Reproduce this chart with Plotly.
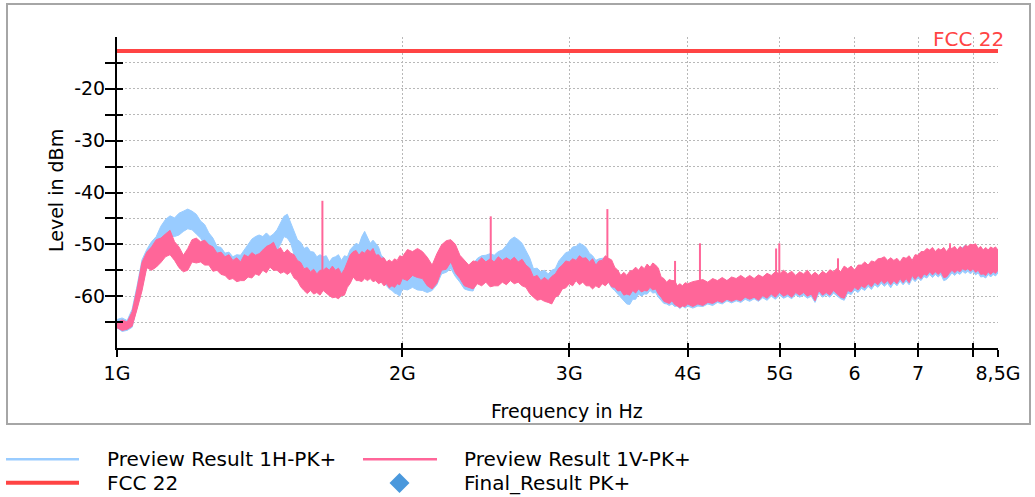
import math
import plotly.graph_objects as go

# ---------------- data (frequency in GHz, level in dBm) ----------------
# main reading grid
freq_ghz = [
    1.000, 1.025, 1.050, 1.075, 1.100, 1.125, 1.150, 1.175, 1.200, 1.225,
    1.250, 1.275, 1.300, 1.325, 1.350, 1.375, 1.400, 1.425, 1.450, 1.475,
    1.500, 1.525, 1.550, 1.575, 1.600, 1.625, 1.650, 1.675, 1.700, 1.725,
    1.750, 1.775, 1.800, 1.825, 1.850, 1.875, 1.900, 1.925, 1.950, 1.975,
    2.000, 2.05, 2.10, 2.15, 2.20, 2.25, 2.30, 2.35, 2.40, 2.45,
    2.50, 2.55, 2.60, 2.65, 2.70, 2.75, 2.80, 2.85, 2.90, 2.95,
    3.00, 3.05, 3.10, 3.15, 3.20, 3.25, 3.30, 3.35, 3.40, 3.45,
    3.50, 3.55, 3.60, 3.65, 3.70, 3.75, 3.80, 3.85, 3.90, 3.95,
    4.0, 4.1, 4.2, 4.3, 4.4, 4.5, 4.6, 4.7, 4.8, 4.9,
    5.0, 5.1, 5.2, 5.3, 5.4, 5.5, 5.6, 5.7, 5.8, 5.9,
    6.0, 6.1, 6.2, 6.3, 6.4, 6.5, 6.6, 6.7, 6.8, 6.9,
    7.0, 7.1, 7.2, 7.3, 7.4, 7.5, 7.6, 7.7, 7.8, 7.9,
    8.0, 8.1, 8.2, 8.3, 8.4, 8.5,
]

# Preview Result 1H-PK+ (band: upper / lower edge of the noisy trace)
h_upper = [
    -64.5, -64.7, -58.0, -51.0, -48.5, -45.2, -44.9, -43.6, -43.6, -45.5,
    -47.8, -50.4, -51.7, -52.4, -52.1, -50.1, -48.5, -48.5, -48.5, -47.2,
    -44.6, -45.9, -49.1, -50.8, -51.4, -52.4, -52.4, -53.4, -52.4, -53.1,
    -52.4, -50.4, -50.1, -47.5, -49.8, -49.8, -52.1, -53.7, -55.0, -55.3,
    -55.0, -55.0, -55.7, -54.7, -52.7, -52.1, -53.4, -55.0, -52.7, -52.1,
    -52.1, -51.1, -49.1, -49.1, -51.1, -54.7, -55.3, -55.7, -54.7, -52.4,
    -51.4, -50.4, -50.1, -51.7, -53.1, -52.7, -53.4, -55.7, -57.0, -58.0,
    -57.3, -56.6, -56.3, -56.0, -55.7, -57.0, -57.6, -58.0, -58.3, -58.3,
    -58.0, -57.6, -57.6, -57.3, -57.0, -56.9, -56.8, -56.9, -56.5, -56.3,
    -56.0, -56.0, -56.2, -56.0, -56.2, -56.2, -55.9, -55.6, -55.6, -55.0,
    -55.2, -54.3, -54.2, -53.7, -53.0, -53.3, -53.3, -53.6, -53.0, -53.3,
    -52.4, -51.7, -51.3, -51.6, -51.3, -51.6, -51.0, -51.3, -50.6, -50.6,
    -50.4, -51.0, -51.3, -51.3, -51.0, -51.3,
]
h_lower = [
    -66.1, -66.6, -62.0, -54.0, -53.0, -49.1, -48.5, -47.5, -47.2, -48.8,
    -51.1, -53.4, -54.4, -55.7, -56.0, -54.4, -52.4, -51.7, -51.7, -51.1,
    -48.5, -49.8, -53.1, -54.4, -55.0, -55.7, -56.0, -56.3, -55.7, -56.0,
    -56.3, -54.4, -54.0, -52.4, -53.1, -53.7, -56.6, -58.0, -58.9, -59.6,
    -58.6, -58.3, -58.9, -58.9, -55.7, -54.7, -57.3, -58.9, -57.0, -56.0,
    -56.3, -55.0, -53.1, -53.4, -55.0, -57.6, -58.3, -58.3, -58.3, -56.6,
    -55.7, -55.0, -54.7, -55.7, -56.3, -56.6, -57.3, -58.9, -60.2, -61.5,
    -60.6, -59.6, -59.6, -58.9, -59.3, -60.9, -61.5, -61.5, -61.9, -61.9,
    -61.9, -61.9, -61.5, -61.2, -60.9, -60.9, -60.6, -60.5, -60.3, -60.0,
    -59.8, -60.0, -59.7, -59.8, -60.0, -59.4, -59.7, -59.4, -60.5, -59.4,
    -58.8, -58.5, -58.1, -57.8, -57.5, -57.5, -57.4, -57.1, -57.1, -56.6,
    -56.5, -56.2, -55.8, -55.8, -55.8, -56.8, -55.5, -55.5, -55.2, -55.2,
    -55.2, -55.5, -56.2, -55.8, -55.8, -55.5,
]

# Preview Result 1V-PK+
v_upper = [
    -65.1, -65.0, -58.5, -51.5, -49.1, -48.0, -49.5, -52.1, -49.1, -49.5,
    -50.1, -51.7, -52.4, -53.1, -53.4, -52.4, -52.1, -51.1, -50.1, -51.1,
    -51.7, -51.7, -53.1, -54.7, -55.3, -55.7, -55.0, -55.0, -55.0, -55.7,
    -53.4, -51.4, -52.1, -51.7, -51.4, -52.1, -52.7, -53.4, -53.4, -53.1,
    -52.4, -51.4, -51.4, -54.0, -50.1, -49.1, -52.1, -54.0, -53.4, -53.4,
    -53.4, -53.1, -53.1, -53.4, -54.0, -56.3, -57.0, -57.0, -55.7, -54.0,
    -53.4, -53.1, -52.7, -53.4, -54.0, -53.1, -52.7, -54.4, -56.0, -56.0,
    -55.0, -55.0, -54.7, -54.4, -54.0, -56.3, -57.3, -57.0, -58.0, -58.0,
    -57.6, -57.0, -57.3, -57.0, -57.0, -56.6, -56.6, -56.6, -56.3, -56.0,
    -55.7, -55.7, -56.0, -55.7, -56.0, -56.0, -55.7, -55.3, -55.3, -54.7,
    -55.0, -54.0, -54.0, -53.4, -52.7, -53.1, -53.1, -53.4, -52.7, -53.1,
    -52.1, -51.4, -51.1, -51.4, -51.1, -51.4, -50.8, -51.1, -50.8, -50.4,
    -50.1, -50.8, -51.1, -51.1, -50.8, -51.1,
]
v_lower = [
    -66.1, -66.4, -62.5, -54.5, -54.4, -52.4, -53.1, -55.3, -53.4, -53.4,
    -54.0, -55.0, -56.0, -56.6, -57.0, -56.3, -55.7, -55.0, -54.4, -55.0,
    -55.3, -55.3, -57.0, -58.9, -58.9, -59.3, -58.9, -59.9, -60.2, -59.9,
    -58.3, -56.3, -57.0, -56.6, -56.6, -57.0, -57.3, -57.6, -58.0, -57.6,
    -56.6, -56.0, -56.6, -58.6, -55.0, -53.4, -56.6, -58.3, -57.6, -57.3,
    -58.0, -57.3, -57.0, -57.3, -58.3, -60.2, -60.6, -61.2, -60.2, -58.6,
    -57.6, -57.0, -57.3, -58.0, -58.0, -57.6, -57.3, -58.3, -58.9, -59.6,
    -58.9, -58.6, -58.9, -58.3, -58.6, -60.2, -61.2, -60.9, -61.9, -61.9,
    -61.5, -61.5, -61.2, -60.9, -60.6, -60.6, -60.2, -60.2, -59.9, -59.6,
    -59.3, -59.6, -59.3, -59.3, -59.6, -58.9, -59.3, -58.9, -60.2, -58.9,
    -58.3, -58.0, -57.6, -57.3, -57.0, -57.0, -57.0, -56.6, -56.6, -56.0,
    -56.0, -55.7, -55.3, -55.3, -55.3, -56.3, -55.0, -55.0, -54.7, -54.7,
    -54.7, -55.0, -55.7, -55.3, -55.3, -55.0,
]

# in-between readings (noise extremes between the main grid points)
freq_mid_ghz = [
    1.0125, 1.0375, 1.0625, 1.0875, 1.1125, 1.1375, 1.1625, 1.1875, 1.2125, 1.2375,
    1.2625, 1.2875, 1.3125, 1.3375, 1.3625, 1.3875, 1.4125, 1.4375, 1.4625, 1.4875,
    1.5125, 1.5375, 1.5625, 1.5875, 1.6125, 1.6375, 1.6625, 1.6875, 1.7125, 1.7375,
    1.7625, 1.7875, 1.8125, 1.8375, 1.8625, 1.8875, 1.9125, 1.9375, 1.9625, 1.9875,
    2.025, 2.075, 2.125, 2.175, 2.225, 2.275, 2.325, 2.375, 2.425, 2.475,
    2.525, 2.575, 2.625, 2.675, 2.725, 2.775, 2.825, 2.875, 2.925, 2.975,
    3.025, 3.075, 3.125, 3.175, 3.225, 3.275, 3.325, 3.375, 3.425, 3.475,
    3.525, 3.575, 3.625, 3.675, 3.725, 3.775, 3.825, 3.875, 3.925, 3.975,
    4.05, 4.15, 4.25, 4.35, 4.45, 4.55, 4.65, 4.75, 4.85, 4.95,
    5.05, 5.15, 5.25, 5.35, 5.45, 5.55, 5.65, 5.75, 5.85, 5.95,
    6.05, 6.15, 6.25, 6.35, 6.45, 6.55, 6.65, 6.75, 6.85, 6.95,
    7.05, 7.15, 7.25, 7.35, 7.45, 7.55, 7.65, 7.75, 7.85, 7.95,
    8.05, 8.15, 8.25, 8.35, 8.45,
]
h_upper_mid = [
    -64.2, -62.5, -53.0, -49.5, -46.5, -44.5, -44.0, -43.2, -44.2, -46.2,
    -48.8, -50.6, -51.5, -52.0, -51.0, -49.0, -48.2, -47.8, -48.0, -45.8,
    -44.2, -47.8, -49.6, -50.5, -51.5, -52.0, -52.2, -52.6, -52.0, -52.2,
    -51.0, -49.8, -48.5, -48.6, -49.2, -50.5, -52.6, -54.0, -54.6, -54.8,
    -54.6, -55.0, -55.0, -53.5, -52.2, -52.6, -54.2, -53.8, -52.2, -51.8,
    -51.4, -50.2, -48.6, -49.8, -52.6, -54.6, -55.0, -55.0, -53.2, -51.6,
    -50.5, -49.8, -50.6, -52.2, -52.8, -52.6, -54.4, -56.2, -57.2, -57.4,
    -56.8, -56.2, -55.8, -55.6, -56.0, -57.2, -57.6, -57.8, -58.0, -57.8,
    -57.6, -57.0, -56.9, -56.7, -56.5, -56.2, -56.3, -56.1, -55.9, -55.6,
    -55.4, -55.5, -55.6, -55.3, -55.7, -55.5, -55.2, -54.9, -54.5, -54.5,
    -54.3, -53.7, -53.5, -53.1, -52.7, -52.9, -53.0, -52.8, -52.5, -52.3,
    -51.7, -51.1, -50.9, -51.1, -50.9, -51.0, -50.7, -50.6, -50.2, -50.3,
    -50.2, -50.7, -50.9, -50.8, -50.8,
]
h_lower_mid = [
    -66.8, -66.0, -58.5, -54.2, -51.0, -48.5, -48.2, -47.0, -48.0, -50.0,
    -52.5, -54.2, -55.3, -56.3, -56.0, -53.8, -52.5, -52.0, -52.2, -50.0,
    -48.8, -52.0, -54.0, -55.0, -55.8, -56.3, -56.5, -56.6, -56.2, -56.6,
    -55.6, -54.6, -53.5, -53.0, -53.6, -55.0, -57.5, -58.6, -59.4, -60.0,
    -58.8, -58.8, -59.3, -57.8, -55.4, -56.2, -58.6, -59.0, -57.0, -56.6,
    -56.0, -54.5, -53.2, -54.2, -56.6, -58.2, -58.6, -58.8, -57.6, -56.4,
    -55.6, -55.0, -55.5, -56.4, -56.8, -57.2, -58.4, -59.6, -61.0, -61.6,
    -60.6, -60.0, -59.6, -59.4, -60.2, -61.4, -61.8, -62.0, -62.4, -62.3,
    -62.3, -62.0, -61.8, -61.5, -61.3, -61.2, -61.0, -61.0, -60.8, -60.6,
    -60.4, -60.5, -60.2, -60.4, -61.2, -60.2, -60.2, -60.0, -60.8, -59.7,
    -59.3, -58.9, -58.7, -58.3, -58.1, -58.4, -58.0, -57.8, -57.8, -57.2,
    -57.0, -56.5, -56.4, -56.3, -57.0, -56.2, -56.0, -55.8, -55.6, -55.7,
    -55.9, -56.3, -56.5, -56.3, -56.1,
]
v_upper_mid = [
    -64.6, -63.0, -53.5, -50.5, -48.8, -47.3, -50.5, -50.8, -48.8, -49.2,
    -50.5, -51.5, -52.0, -52.6, -52.0, -51.6, -51.8, -50.4, -49.6, -50.6,
    -51.0, -52.0, -53.5, -54.5, -54.8, -55.0, -54.5, -54.2, -54.6, -54.8,
    -52.0, -51.2, -51.4, -51.0, -50.8, -52.0, -52.6, -53.0, -52.8, -52.2,
    -51.0, -50.8, -52.5, -51.8, -49.3, -50.0, -53.0, -53.2, -52.6, -52.8,
    -52.4, -52.6, -52.5, -52.9, -54.6, -56.0, -56.4, -56.2, -54.6, -53.2,
    -52.8, -52.2, -52.6, -52.8, -53.2, -52.2, -53.0, -55.0, -55.4, -55.2,
    -54.4, -54.2, -53.8, -53.6, -54.6, -56.6, -56.8, -57.0, -57.6, -57.4,
    -57.2, -56.8, -56.6, -56.4, -56.3, -56.0, -56.0, -55.9, -55.6, -55.3,
    -55.0, -55.2, -55.3, -55.0, -55.4, -55.2, -54.9, -54.6, -54.2, -54.2,
    -54.0, -53.4, -53.2, -52.8, -52.4, -52.6, -52.7, -52.5, -52.2, -52.0,
    -51.4, -50.8, -50.6, -50.8, -50.6, -50.7, -50.4, -50.4, -50.2, -50.0,
    -49.9, -50.4, -50.6, -50.5, -50.5,
]
v_lower_mid = [
    -66.6, -65.8, -59.0, -55.0, -53.5, -52.0, -54.5, -55.0, -53.6, -54.0,
    -55.2, -55.8, -56.8, -57.2, -57.0, -56.5, -56.0, -55.5, -55.0, -55.6,
    -55.8, -56.5, -58.2, -59.5, -59.6, -59.8, -59.5, -60.3, -60.5, -59.8,
    -57.5, -57.0, -57.2, -57.0, -57.2, -57.6, -58.0, -58.4, -58.3, -57.8,
    -57.0, -56.4, -58.0, -57.5, -54.8, -55.5, -58.0, -58.6, -58.0, -58.2,
    -58.0, -57.8, -57.6, -58.0, -59.5, -60.8, -61.0, -61.5, -59.8, -58.4,
    -58.0, -57.8, -58.0, -58.6, -58.4, -58.0, -58.2, -59.0, -59.8, -59.8,
    -59.4, -59.2, -59.0, -58.8, -59.6, -61.0, -61.4, -61.6, -62.2, -62.0,
    -62.0, -61.8, -61.4, -61.2, -61.0, -60.9, -60.6, -60.8, -60.4, -60.2,
    -60.0, -60.2, -59.8, -60.0, -60.9, -59.8, -59.8, -59.6, -60.4, -59.2,
    -58.8, -58.4, -58.2, -57.8, -57.6, -57.8, -57.6, -57.4, -57.4, -56.8,
    -56.6, -56.0, -55.9, -55.8, -56.4, -55.6, -55.5, -55.3, -55.0, -55.2,
    -55.4, -55.8, -56.0, -55.8, -55.6,
]

# narrow peaks on the 1V-PK+ trace
spike_ghz = [1.647, 2.479, 3.291, 3.879, 4.121, 4.958, 4.997, 5.763, 7.565]
spike_base = [-55.5, -54.0, -53.5, -58.0, -57.5, -56.5, -56.0, -55.5, -51.5]
spike_peak = [-41.6, -44.6, -43.2, -53.2, -49.8, -50.8, -49.8, -52.7, -49.8]

fcc_limit = -12.7
fcc_span_ghz = [1.0, 8.5]

x_tickvals = [1, 2, 3, 4, 5, 6, 7, 8, 8.5]
x_ticktext = ["1G", "2G", "3G", "4G", "5G", "6", "7", "", "8,5G"]
y_tickvals = [-65, -60, -55, -50, -45, -40, -35, -30, -25, -20, -15]
y_ticktext = ["", "-60", "", "-50", "", "-40", "", "-30", "", "-20", ""]

legend_labels = ["Preview Result 1H-PK+", "Preview Result 1V-PK+", "FCC 22", "Final_Result PK+"]

# ---------------- merge readings in frequency order ----------------
rows = sorted(
    list(zip(freq_ghz, h_upper, h_lower, v_upper, v_lower))
    + list(zip(freq_mid_ghz, h_upper_mid, h_lower_mid, v_upper_mid, v_lower_mid))
)
F = [r[0] for r in rows]
HU = [r[1] for r in rows]
HL = [r[2] for r in rows]
VU = [r[3] for r in rows]
VL = [r[4] for r in rows]

# ---------------- styling ----------------
BLUE = "#99ccff"
PINK = "#ff6699"
RED = "#ff4444"
DIAMOND = "#4a98dc"
FONT = "DejaVu Sans"

W, H = 1035, 497
L, R, T, B = 117, 37, 37, 149
PW, PH = W - L - R, H - T - B


def px(xp):
    return (xp - L) / PW


def py(yp):
    return (H - B - yp) / PH


fig = go.Figure()

# 1H band
fig.add_trace(go.Scatter(x=F, y=HL, mode="lines",
                         line=dict(color=BLUE, width=1), showlegend=False, hoverinfo="skip"))
fig.add_trace(go.Scatter(x=F, y=HU, mode="lines", fill="tonexty", fillcolor=BLUE,
                         line=dict(color=BLUE, width=1), name=legend_labels[0], showlegend=False))
# 1V band
fig.add_trace(go.Scatter(x=F, y=VL, mode="lines",
                         line=dict(color=PINK, width=1), showlegend=False, hoverinfo="skip"))
fig.add_trace(go.Scatter(x=F, y=VU, mode="lines", fill="tonexty", fillcolor=PINK,
                         line=dict(color=PINK, width=1), name=legend_labels[1], showlegend=False))
# spikes
sx, sy = [], []
for f, b0, p0 in zip(spike_ghz, spike_base, spike_peak):
    sx += [f, f, None]
    sy += [b0, p0, None]
fig.add_trace(go.Scatter(x=sx, y=sy, mode="lines", line=dict(color=PINK, width=2),
                         showlegend=False, hoverinfo="skip"))
# limit line
fig.add_trace(go.Scatter(x=fcc_span_ghz, y=[fcc_limit, fcc_limit], mode="lines",
                         line=dict(color=RED, width=4), name=legend_labels[2], showlegend=False))
# helper trace for the overlaid (inside-tick) axes
fig.add_trace(go.Scatter(x=[None], y=[None], xaxis="x2", yaxis="y2", showlegend=False))

xrange = [0, math.log10(8.5)]
yrange = [-70, -10]
tickfont = dict(family=FONT, size=19, color="black")

fig.update_layout(
    width=W, height=H,
    margin=dict(l=L, r=R, t=T, b=B),
    paper_bgcolor="white", plot_bgcolor="white",
    showlegend=False,
    xaxis=dict(type="log", range=xrange, tickmode="array", tickvals=x_tickvals, ticktext=x_ticktext,
               ticks="outside", ticklen=7, tickwidth=2, tickcolor="black",
               showline=True, linecolor="black", linewidth=2,
               showgrid=True, gridcolor="#b8b8b8", griddash="2px,2px", gridwidth=1,
               zeroline=False, tickfont=tickfont),
    yaxis=dict(range=yrange, tickmode="array", tickvals=y_tickvals, ticktext=y_ticktext,
               ticks="outside", ticklen=10, tickwidth=2, tickcolor="black",
               showline=True, linecolor="black", linewidth=2, ticklabelstandoff=-4,
               showgrid=True, gridcolor="#b8b8b8", griddash="2px,2px", gridwidth=1,
               zeroline=False, tickfont=tickfont),
    xaxis2=dict(type="log", range=xrange, overlaying="x", anchor="y", side="bottom",
                tickmode="array", tickvals=x_tickvals, ticks="inside", ticklen=5, tickwidth=2,
                tickcolor="black", showticklabels=False, showgrid=False, showline=False, zeroline=False),
    yaxis2=dict(range=yrange, overlaying="y", anchor="x", side="left",
                tickmode="array", tickvals=y_tickvals, ticks="inside", ticklen=6, tickwidth=2,
                tickcolor="black", showticklabels=False, showgrid=False, showline=False, zeroline=False),
)

shapes = [
    # outer frame
    dict(type="rect", xref="paper", yref="paper", x0=px(7), x1=px(1030), y0=py(424), y1=py(4),
         line=dict(color="#a6a6a6", width=2), fillcolor="rgba(0,0,0,0)", layer="below"),
    # legend symbols
    dict(type="line", xref="paper", yref="paper", x0=px(6), x1=px(79), y0=py(459.3), y1=py(459.3),
         line=dict(color=BLUE, width=2.5)),
    dict(type="line", xref="paper", yref="paper", x0=px(363), x1=px(437), y0=py(459.3), y1=py(459.3),
         line=dict(color=PINK, width=2.5)),
    dict(type="line", xref="paper", yref="paper", x0=px(6), x1=px(79), y0=py(482.7), y1=py(482.7),
         line=dict(color=RED, width=4)),
    dict(type="path", xref="paper", yref="paper", xsizemode="pixel", ysizemode="pixel",
         xanchor=px(399.5), yanchor=py(483), path="M0,10 L10,0 L0,-10 L-10,0 Z",
         fillcolor=DIAMOND, line=dict(width=0)),
]

legfont = dict(family=FONT, size=20, color="black")
annotations = [
    dict(text=legend_labels[0], x=px(105), y=py(459), xref="paper", yref="paper",
         xanchor="left", yanchor="middle", showarrow=False, font=legfont),
    dict(text=legend_labels[1], x=px(462), y=py(459), xref="paper", yref="paper",
         xanchor="left", yanchor="middle", showarrow=False, font=legfont),
    dict(text=legend_labels[2], x=px(105), y=py(483), xref="paper", yref="paper",
         xanchor="left", yanchor="middle", showarrow=False, font=legfont),
    dict(text=legend_labels[3], x=px(462), y=py(483), xref="paper", yref="paper",
         xanchor="left", yanchor="middle", showarrow=False, font=legfont),
    # axis titles
    dict(text="Frequency in Hz", x=px(567), y=py(411), xref="paper", yref="paper",
         xanchor="center", yanchor="middle", showarrow=False, font=dict(family=FONT, size=19, color="black")),
    dict(text="Level in dBm", x=px(56), y=py(191), xref="paper", yref="paper", textangle=-90,
         xanchor="center", yanchor="middle", showarrow=False, font=dict(family=FONT, size=19, color="black")),
    # limit label
    dict(text="FCC 22", x=px(1006), y=py(39), xref="paper", yref="paper",
         xanchor="right", yanchor="middle", showarrow=False, font=dict(family=FONT, size=20, color=RED)),
]

fig.update_layout(shapes=shapes, annotations=annotations)
fig.write_html("out.html", config={"displayModeBar": False},
               post_script="document.body.style.margin='0';document.body.style.overflow='hidden';")
